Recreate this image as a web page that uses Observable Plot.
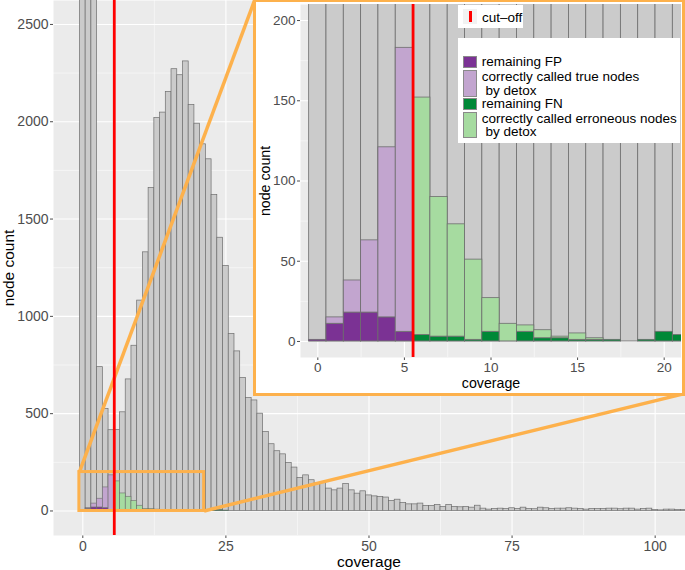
<!DOCTYPE html>
<html><head><meta charset="utf-8">
<script src="https://cdn.jsdelivr.net/npm/d3@7"></script>
<script src="https://cdn.jsdelivr.net/npm/@observablehq/plot@0.6"></script>
<style>
body{margin:0;background:#fff;}
#wrap{position:relative;width:685px;height:570px;overflow:hidden;font-family:"Liberation Sans",Arial,Helvetica,sans-serif;}
.t{position:absolute;white-space:nowrap;line-height:0.75;}
</style></head><body><div id="wrap"></div>
<script>
// ---------------- data ----------------
const coverage = d3.range(0, 106); // bin centres (binwidth 1)
const totalCounts = [
  9500, 6000, 3300, 739, 524, 415, 416, 507, 676, 849,
  1081, 1329, 1660, 2019, 2047, 2153, 2270, 2239, 2310, 2086,
  1990, 1884, 1807, 1624, 1404, 1259, 910, 820, 684, 580,
  568, 500, 406, 343, 307, 291, 247, 223, 170, 183,
  158, 141, 144, 115, 106, 115, 139, 106, 89, 101,
  80, 75, 72, 69, 51, 58, 41, 34, 34, 38,
  26, 26, 31, 21, 31, 21, 19, 21, 17, 27,
  12, 7, 10, 12, 10, 14, 10, 17, 10, 9,
  17, 14, 10, 12, 12, 14, 12, 10, 7, 10,
  10, 10, 12, 12, 9, 12, 12, 7, 10, 12,
  5, 3, 7, 7, 5, 5
];
// classification counts for bins 0..25
const fpCounts = [1, 11, 18, 18, 15, 6, 0,0,0,0,0,0,0,0,0,0,0,0,0,0,0,0, 0,0,0,0];
const tpCounts = [0, 4, 20, 45, 106, 177, 0,0,0,0,0,0,0,0,0,0,0,0,0,0,0,0, 0,0,0,0];
const fnCounts = [0,0,0,0,0,0, 4,3,3,1,6,0,6,2,2,1,1,1,0,1,6,4, 2,4,5,2];
const tnCounts = [0,0,0,0,0,0, 148,87,70,50,21,11,4,5,1,4,1,0,0,0,0,0, 0,0,0,0];
const categories = ["remaining FP", "correctly called true nodes\n by detox", "remaining FN", "correctly called erroneous nodes\n by detox"];
const catColors = ["#7b3294", "#c2a5cf", "#008837", "#a6dba0"];
const cutoff = 5.5;
const mainXTicks = [0, 25, 50, 75, 100];
const mainXMinor = [12.5, 37.5, 62.5, 87.5];
const mainYTicks = [0, 500, 1000, 1500, 2000, 2500];
const mainYMinor = [250, 750, 1250, 1750, 2250];
const insetXTicks = [0, 5, 10, 15, 20];
const insetXMinor = [2.5, 7.5, 12.5, 17.5];
const insetYTicks = [0, 50, 100, 150, 200];
const insetYMinor = [25, 75, 125, 175];
const zoomBox = [{x1: -0.6, x2: 21.2, y1: 0, y2: 200}];
const connectors = [
  {x1: -0.6, y1: 200, x2: 30, y2: 2623},
  {x1: 21.2, y1: 0, x2: 105.3, y2: 604}
];

// ---------------- tables ----------------
const bars = coverage.map((c, i) => ({cov: c, count: totalCounts[i]}));
const catArrays = [fpCounts, tpCounts, fnCounts, tnCounts];
const stacked = [];
fpCounts.forEach((_, i) => {
  catArrays.forEach((arr, k) => {
    if (arr[i] > 0) stacked.push({cov: coverage[i], cat: categories[k], value: arr[i]});
  });
});

const ORANGE = "#fdb14c";
const BAR_STROKE = "#6e6e6e";
const FONT = "'Liberation Sans', Arial, Helvetica, sans-serif";
const fmt = d => `${d}`;

function panelMarks(xMinor, xMajor, yMinor, yMajor) {
  return [
    Plot.frame({fill: "#ebebeb", stroke: "none"}),
    Plot.ruleX(xMinor, {stroke: "#fff", strokeWidth: 0.5}),
    Plot.ruleY(yMinor, {stroke: "#fff", strokeWidth: 0.5}),
    Plot.ruleX(xMajor, {stroke: "#fff", strokeWidth: 1.1}),
    Plot.ruleY(yMajor, {stroke: "#fff", strokeWidth: 1.1})
  ];
}

const wrap = document.getElementById("wrap");

// ---------------- main chart ----------------
const mainPlot = Plot.plot({
  width: 685, height: 570,
  marginLeft: 53, marginRight: 0, marginTop: 0, marginBottom: 35,
  style: {fontFamily: FONT, fontSize: "14px", color: "#4d4d4d", background: "transparent"},
  x: {domain: [-5.12, 105.3], ticks: mainXTicks, tickSize: 3, tickPadding: 3, tickFormat: fmt, label: null},
  y: {domain: [-126, 2623], ticks: mainYTicks, tickSize: 3, tickPadding: 2, tickFormat: fmt, label: null},
  color: {domain: categories, range: catColors},
  marks: [
    ...panelMarks(mainXMinor, mainXTicks, mainYMinor, mainYTicks),
    Plot.rectY(bars, {x1: d => d.cov - 0.5, x2: d => d.cov + 0.5, y: "count", fill: "#cbcbcb", stroke: BAR_STROKE, strokeWidth: 0.7, clip: true}),
    Plot.rectY(stacked, {x1: d => d.cov - 0.5, x2: d => d.cov + 0.5, y: "value", fill: "cat", stroke: BAR_STROKE, strokeWidth: 0.6, clip: true}),
    Plot.rect(zoomBox, {x1: "x1", x2: "x2", y1: "y1", y2: "y2", fill: "none", stroke: ORANGE, strokeWidth: 3}),
    Plot.link(connectors, {x1: "x1", y1: "y1", x2: "x2", y2: "y2", stroke: ORANGE, strokeWidth: 3.5}),
    Plot.ruleX([cutoff], {stroke: "#ff0000", strokeWidth: 2.8})
  ]
});
mainPlot.style.position = "absolute";
mainPlot.style.left = "0px";
mainPlot.style.top = "0px";
wrap.appendChild(mainPlot);

// ---------------- inset ----------------
const insetBox = document.createElement("div");
Object.assign(insetBox.style, {
  position: "absolute", left: "253px", top: "-1.5px", width: "432px", height: "397px",
  border: `3.5px solid ${ORANGE}`, boxSizing: "border-box", background: "#fff", overflow: "hidden"
});
wrap.appendChild(insetBox);

const insetPlot = Plot.plot({
  width: 425, height: 390,
  marginLeft: 44, marginRight: 0, marginTop: 2, marginBottom: 35,
  style: {fontFamily: FONT, fontSize: "13.5px", color: "#4d4d4d", background: "#fff"},
  x: {domain: [-1, 21], ticks: insetXTicks, tickSize: 3, tickPadding: 2, tickFormat: fmt, label: null},
  y: {domain: [-10, 210], ticks: insetYTicks, tickSize: 3, tickPadding: 2, tickFormat: fmt, label: null},
  color: {domain: categories, range: catColors},
  marks: [
    ...panelMarks(insetXMinor, insetXTicks, insetYMinor, insetYTicks),
    Plot.rectY(bars, {x1: d => d.cov - 0.5, x2: d => d.cov + 0.5, y: "count", fill: "#cbcbcb", stroke: BAR_STROKE, strokeWidth: 0.8, clip: true}),
    Plot.rectY(stacked, {x1: d => d.cov - 0.5, x2: d => d.cov + 0.5, y: "value", fill: "cat", stroke: BAR_STROKE, strokeWidth: 0.8, clip: true}),
    Plot.ruleX([cutoff], {stroke: "#ff0000", strokeWidth: 2.8})
  ]
});
insetPlot.style.display = "block";
insetBox.appendChild(insetPlot);

// ---------------- text helpers ----------------
function addText(txt, cx, cy, size, rot, color) {
  const el = document.createElement("div");
  el.className = "t";
  el.textContent = txt;
  Object.assign(el.style, {
    left: cx + "px", top: cy + "px", fontSize: size + "px", color: color || "#000",
    transform: `translate(-50%,-50%)${rot ? " rotate(-90deg)" : ""}`
  });
  wrap.appendChild(el);
  return el;
}
addText("node count", 8.5, 268, 15.5, true);
addText("coverage", 369, 562, 15.5, false);
addText("node count", 265, 180.5, 14.2, true);
addText("coverage", 491, 383, 14.2, false);

// ---------------- legends ----------------
// cut-off legend
const cutBox = document.createElement("div");
Object.assign(cutBox.style, {position: "absolute", left: "458px", top: "5px", width: "65px", height: "23px", background: "#fff"});
wrap.appendChild(cutBox);
const cutKey = document.createElement("div");
Object.assign(cutKey.style, {position: "absolute", left: "5px", top: "4px", width: "14px", height: "15px", background: "#f2f2f2"});
cutBox.appendChild(cutKey);
const cutLine = document.createElement("div");
Object.assign(cutLine.style, {position: "absolute", left: "5.5px", top: "2px", width: "3px", height: "11px", background: "#ff0000"});
cutKey.appendChild(cutLine);
const cutTxt = document.createElement("div");
cutTxt.className = "t";
cutTxt.textContent = "cut–off";
Object.assign(cutTxt.style, {left: "24px", top: "12.5px", fontSize: "13.5px", lineHeight: "1", transform: "translateY(-50%)", color: "#000"});
cutBox.appendChild(cutTxt);

// fill legend
const legBox = document.createElement("div");
Object.assign(legBox.style, {position: "absolute", left: "458px", top: "38px", width: "222px", height: "105px", background: "#fff"});
wrap.appendChild(legBox);
const keyTops = [18, 32, 60.3, 73.7];
const keyHeights = [12.3, 27.3, 11.7, 26.6];
categories.forEach((cat, k) => {
  const sw = document.createElement("div");
  Object.assign(sw.style, {
    position: "absolute", left: "5.3px", top: keyTops[k] + "px", width: "13.4px", height: keyHeights[k] + "px",
    background: catColors[k], border: "1px solid #8a8a8a", boxSizing: "border-box"
  });
  legBox.appendChild(sw);
  const tx = document.createElement("div");
  tx.textContent = cat;
  Object.assign(tx.style, {
    position: "absolute", left: "23.7px", top: keyTops[k] + "px", height: keyHeights[k] + "px",
    display: "flex", alignItems: "center", whiteSpace: "pre", lineHeight: "13.4px", fontSize: "13.5px", color: "#000"
  });
  legBox.appendChild(tx);
});
</script>
</body></html>
